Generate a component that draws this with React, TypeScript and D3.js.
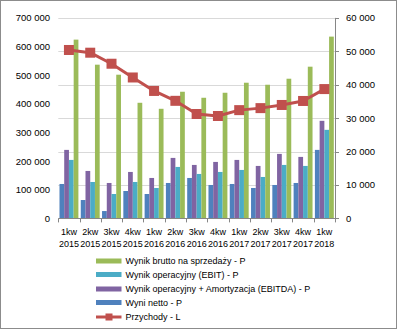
import React from "react";
import * as d3 from "d3";

const quarters = ["1kw","2kw","3kw","4kw","1kw","2kw","3kw","4kw","1kw","2kw","3kw","4kw","1kw"];
const years = ["2015","2015","2015","2015","2016","2016","2016","2016","2017","2017","2017","2017","2018"];

const netto = [10300,5500,2200,8200,7300,10600,12100,10000,10300,9100,10000,10600,20500];
const ebitda = [20500,14200,10600,13900,12100,18100,16000,16900,17500,15700,19300,18400,29200];
const ebit = [17500,10900,7300,10900,9100,15400,13300,13900,14500,12400,16000,15700,26500];
const brutto = [53500,46000,43000,34600,32800,37900,36100,37600,40600,40000,41800,45400,54400];
const przychody = [588000,578500,540000,492000,445000,410500,364500,357500,378000,385000,396000,410000,451500];

const leftTicks = [0,100000,200000,300000,400000,500000,600000,700000];
const rightTicks = [0,10000,20000,30000,40000,50000,60000];

const legendNames = [
  "Wynik brutto na sprzedaży - P",
  "Wynik operacyjny (EBIT) - P",
  "Wynik operacyjny + Amortyzacja (EBITDA) - P",
  "Wyni netto - P",
  "Przychody - L",
];

const W = 398, H = 330;
const L = 58.3, R = 335, T = 17.9, B = 218.4;
const C = { green: "#9BBB59", teal: "#4BACC6", purple: "#8064A2", blue: "#4F81BD", red: "#C0504D" };
const font = "'Liberation Sans', Arial, sans-serif";

const fmt = (v: number) => d3.format(",")(v).replace(/,/g, " ");

export default function App() {
  const idx = quarters.map((_, i) => i);
  const x = d3.scaleBand<number>().domain(idx).range([L, R]).paddingInner(0).paddingOuter(0);
  const bw = x.bandwidth();
  const inner = d3.scaleBand<number>().domain([0,1,2,3]).range([bw * 0.25 / 4.5, bw - bw * 0.25 / 4.5]).padding(0);
  const yR = d3.scaleLinear().domain([0, 60000]).range([B, T]);
  const yL = d3.scaleLinear().domain([0, 700000]).range([B, T]);
  const series = [
    { v: netto, c: C.blue },
    { v: ebitda, c: C.purple },
    { v: ebit, c: C.teal },
    { v: brutto, c: C.green },
  ];
  const line = d3.line<number>().x((_, i) => (x(i) as number) + bw / 2).y(d => yL(d));
  const legendColors = [C.green, C.teal, C.purple, C.blue];
  const legendY = [261, 274.5, 289, 302.5, 317];

  return (
    <svg width={W} height={H} style={{ position: "absolute", left: 0, top: 0 }} fontFamily={font}>
      <rect x={0} y={0} width={W} height={H} fill="#fff" />
      <rect x={0.5} y={0.5} width={W - 2} height={H - 2} fill="none" stroke="#8c8c8c" strokeWidth={1} />
      {rightTicks.filter(t => t > 0).map(t => (
        <line key={t} x1={L} x2={R} y1={Math.round(yR(t)) + 0.5} y2={Math.round(yR(t)) + 0.5} stroke="#d9d9d9" strokeWidth={1} />
      ))}
      {series.map((s, si) => s.v.map((v, i) => (
        <rect key={si + "-" + i} x={(x(i) as number) + (inner(si) as number)} y={yR(v)} width={inner.bandwidth()} height={B - yR(v)} fill={s.c} />
      )))}
      {/* bottom axis */}
      <line x1={L} x2={R} y1={Math.round(B) + 0.5} y2={Math.round(B) + 0.5} stroke="#868686" />
      {d3.range(14).map(i => {
        const xx = Math.round(L + i * bw) + 0.5;
        return <line key={i} x1={xx} x2={xx} y1={B} y2={B + 4} stroke="#868686" />;
      })}
      {/* right axis */}
      <line x1={R + 0.5} x2={R + 0.5} y1={T} y2={B + 0.5} stroke="#868686" />
      {rightTicks.map(t => (
        <g key={t}>
          <line x1={R} x2={R + 4} y1={Math.round(yR(t)) + 0.5} y2={Math.round(yR(t)) + 0.5} stroke="#868686" />
          <text x={346} y={yR(t) + 3.5} fontSize={9.5} fill="#000">{fmt(t)}</text>
        </g>
      ))}
      {leftTicks.map(t => (
        <text key={t} x={50} y={yL(t) + 3.5} fontSize={9.5} textAnchor="end" fill="#000">{fmt(t)}</text>
      ))}
      {quarters.map((q, i) => (
        <g key={i}>
          <text x={(x(i) as number) + bw / 2} y={234.5} fontSize={9} textAnchor="middle" fill="#000">{q}</text>
          <text x={(x(i) as number) + bw / 2} y={246.5} fontSize={9} textAnchor="middle" fill="#000">{years[i]}</text>
        </g>
      ))}
      {/* line */}
      <path d={line(przychody) || ""} fill="none" stroke={C.red} strokeWidth={3} strokeLinejoin="round" />
      {przychody.map((v, i) => (
        <rect key={i} x={(x(i) as number) + bw / 2 - 5} y={yL(v) - 5} width={10} height={10} fill={C.red} />
      ))}
      {/* legend */}
      {legendNames.map((n, i) => (
        <g key={n}>
          {i < 4 ? (
            <rect x={96} y={legendY[i] - 2.5} width={25.5} height={5} fill={legendColors[i]} />
          ) : (
            <g>
              <line x1={96} x2={121.5} y1={legendY[i]} y2={legendY[i]} stroke={C.red} strokeWidth={3} />
              <rect x={105.5} y={legendY[i] - 3.5} width={7} height={7} fill={C.red} />
            </g>
          )}
          <text x={125.5} y={legendY[i] + 3.3} fontSize={9} fill="#000">{n}</text>
        </g>
      ))}
    </svg>
  );
}
